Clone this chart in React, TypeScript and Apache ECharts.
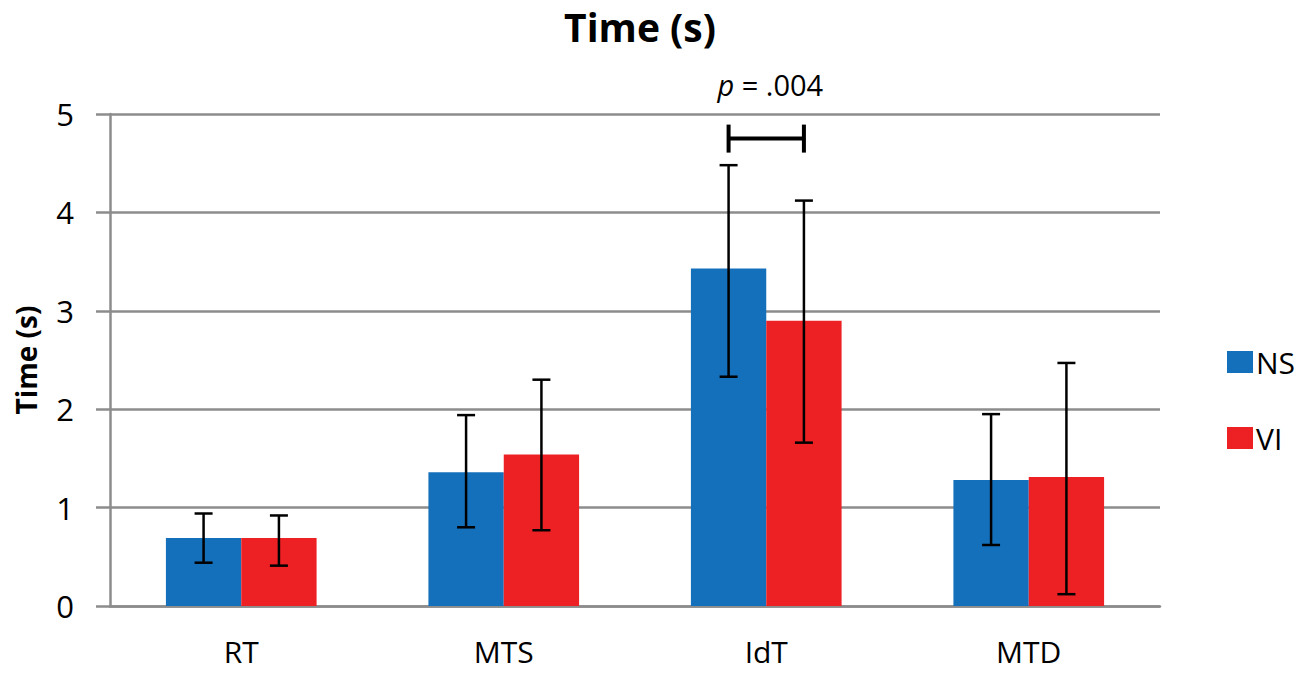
import React, { useEffect, useRef } from "react";
import * as echarts from "echarts";

const categories = ["RT", "MTS", "IdT", "MTD"];
const nsMeans = [0.69, 1.36, 3.43, 1.28];
const viMeans = [0.69, 1.54, 2.9, 1.31];
const nsLow = [0.44, 0.8, 2.33, 0.62];
const nsHigh = [0.94, 1.94, 4.48, 1.95];
const viLow = [0.41, 0.77, 1.66, 0.12];
const viHigh = [0.92, 2.3, 4.12, 2.47];
const yTicks = [0, 1, 2, 3, 4, 5];
const sigPair = { category: 2, level: 4.75, label: ".004" };

const FONT = "'Open Sans', 'Liberation Sans', sans-serif";
const BAR_FRAC = 0.287;
const GRAY = "#8c8c8c";

function errorRenderer(side: number) {
  return (params: any, api: any) => {
    const x = api.value(0);
    const lo = api.coord([x, api.value(1)]);
    const hi = api.coord([x, api.value(2)]);
    const band = api.size([1, 0])[0];
    const cx = lo[0] + (side * band * BAR_FRAC) / 2;
    const cap = 9;
    const style = { stroke: "#000", lineWidth: 2.5 };
    return {
      type: "group",
      children: [
        { type: "line", shape: { x1: cx, y1: lo[1], x2: cx, y2: hi[1] }, style },
        { type: "line", shape: { x1: cx - cap, y1: lo[1], x2: cx + cap, y2: lo[1] }, style },
        { type: "line", shape: { x1: cx - cap, y1: hi[1], x2: cx + cap, y2: hi[1] }, style },
      ],
    };
  };
}

function bracketRenderer(params: any, api: any) {
  const x = api.value(0);
  const p = api.coord([x, api.value(1)]);
  const band = api.size([1, 0])[0];
  const x1 = p[0] - (band * BAR_FRAC) / 2;
  const x2 = p[0] + (band * BAR_FRAC) / 2;
  const style = { stroke: "#000", lineWidth: 4 };
  return {
    type: "group",
    children: [
      { type: "line", shape: { x1, y1: p[1], x2, y2: p[1] }, style },
      { type: "line", shape: { x1, y1: p[1] - 14, x2: x1, y2: p[1] + 14 }, style },
      { type: "line", shape: { x1: x2, y1: p[1] - 14, x2, y2: p[1] + 14 }, style },
      {
        type: "text",
        x: p[0] + 4,
        y: p[1] - 54,
        style: {
          text: "{i|p} = " + sigPair.label,
          rich: { i: { fontStyle: "italic", fontSize: 29, fontFamily: FONT, fill: "#000" } },
          fontSize: 29,
          fontFamily: FONT,
          fill: "#000",
          align: "center",
          verticalAlign: "middle",
        },
      },
    ],
  };
}

export default function App() {
  const ref = useRef<HTMLDivElement>(null);
  useEffect(() => {
    document.body.style.margin = "0";
    if (!ref.current) return;
    const chart = echarts.init(ref.current, null, { renderer: "svg" });
    chart.setOption({
      animation: false,
      backgroundColor: "#fff",
      textStyle: { fontFamily: FONT },
      title: {
        text: "Time (s)",
        left: 635,
        textAlign: "center",
        top: 2,
        textStyle: { fontSize: 39, fontWeight: "bold", color: "#000", fontFamily: FONT },
      },
      legend: {
        orient: "vertical",
        left: 1222,
        top: 342,
        itemWidth: 26,
        itemHeight: 22,
        itemGap: 46,
        icon: "rect",
        data: ["NS", "VI"],
        textStyle: { fontSize: 30, color: "#000", fontFamily: FONT, padding: [0, 0, 0, -2] },
      },
      grid: { left: 110, right: 140, top: 114, bottom: 70, outerBoundsMode: "none", containLabel: false },
      xAxis: {
        type: "category",
        data: categories,
        axisLine: { show: true, lineStyle: { color: GRAY, width: 2.5 } },
        axisTick: { show: false },
        axisLabel: { fontSize: 30, color: "#000", margin: 30, fontFamily: FONT },
      },
      yAxis: {
        type: "value",
        min: yTicks[0],
        max: yTicks[yTicks.length - 1],
        interval: 1,
        name: "Time (s)",
        nameLocation: "middle",
        nameRotate: 90,
        nameGap: 70,
        nameTextStyle: { fontSize: 28, fontWeight: "bold", color: "#000", fontFamily: FONT },
        axisLine: { show: true, lineStyle: { color: GRAY, width: 2.5 } },
        axisTick: { show: true, length: 14, lineStyle: { color: GRAY, width: 2.5 } },
        splitLine: { show: true, lineStyle: { color: GRAY, width: 2.5 } },
        axisLabel: { fontSize: 31, color: "#000", margin: 36, fontFamily: FONT },
      },
      series: [
        {
          name: "NS",
          type: "bar",
          data: nsMeans,
          barWidth: BAR_FRAC * 100 + "%",
          barGap: "0%",
          itemStyle: { color: "#1570bb" },
        },
        {
          name: "VI",
          type: "bar",
          data: viMeans,
          barWidth: BAR_FRAC * 100 + "%",
          barGap: "0%",
          itemStyle: { color: "#ed2024" },
        },
        {
          type: "custom",
          renderItem: errorRenderer(-1),
          data: categories.map((_, i) => [i, nsLow[i], nsHigh[i]]),
          encode: { x: 0, y: [1, 2] },
          z: 10,
          clip: false,
        },
        {
          type: "custom",
          renderItem: errorRenderer(1),
          data: categories.map((_, i) => [i, viLow[i], viHigh[i]]),
          encode: { x: 0, y: [1, 2] },
          z: 10,
          clip: false,
        },
        {
          type: "custom",
          renderItem: bracketRenderer,
          data: [[sigPair.category, sigPair.level]],
          encode: { x: 0, y: 1 },
          z: 10,
          clip: false,
        },
      ],
    });
    return () => chart.dispose();
  }, []);
  return <div ref={ref} style={{ width: 1300, height: 676 }} />;
}
